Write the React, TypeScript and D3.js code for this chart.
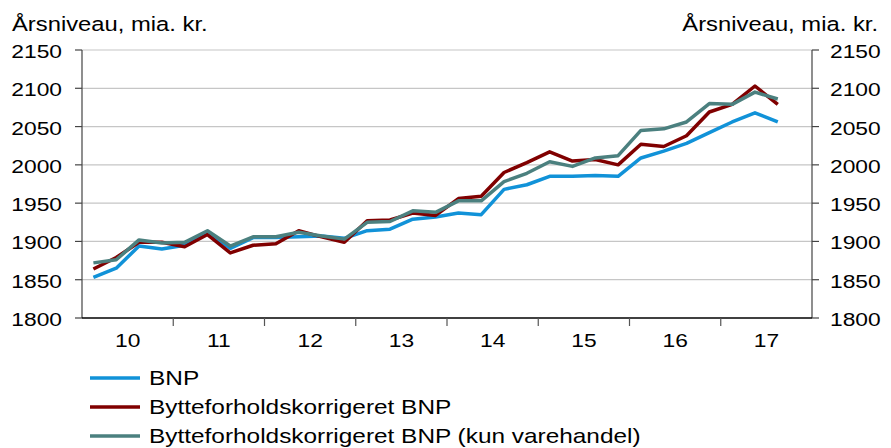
import React, { useEffect, useRef } from 'react';
import * as d3 from 'd3';

const years = ['10', '11', '12', '13', '14', '15', '16', '17'];
const yTicks = [1800, 1850, 1900, 1950, 2000, 2050, 2100, 2150];

// quarterly values, 2010K1 - 2017K3
const bnp = [
  1853, 1865, 1894, 1890, 1895, 1911, 1891, 1905, 1905, 1906, 1907, 1904,
  1914, 1916, 1929, 1932, 1937, 1935, 1968, 1974, 1985, 1985, 1986, 1985,
  2009, 2018, 2028, 2042, 2056, 2068, 2056
];
const bnpTot = [
  1864, 1879, 1899, 1899, 1893, 1909, 1885, 1895, 1897, 1914, 1906, 1899,
  1927, 1928, 1937, 1934, 1956, 1959, 1990, 2003, 2017, 2005, 2007, 2000,
  2027, 2024, 2038, 2069, 2079, 2103, 2079
];
const bnpVare = [
  1872, 1876, 1902, 1898, 1899, 1914, 1894, 1906, 1906, 1912, 1907, 1903,
  1925, 1926, 1940, 1938, 1953, 1953, 1978, 1989, 2004, 1998, 2009, 2012,
  2045, 2047, 2056, 2080, 2079, 2095, 2086
];

const seriesNames = [
  'BNP',
  'Bytteforholdskorrigeret BNP',
  'Bytteforholdskorrigeret BNP (kun varehandel)'
];
const seriesColors = ['#1192d8', '#800000', '#4b807f'];

const width = 891;
const height = 448;

const App: React.FC = () => {
  const svgRef = useRef<SVGSVGElement>(null);

  useEffect(() => {
    if (!svgRef.current) return;
    const svg = d3.select(svgRef.current);
    svg.selectAll('*').remove();

    const left = 82;
    const right = 812;
    const top = 50;
    const bottom = 318;

    const yScale = d3.scaleLinear().domain([1800, 2150]).range([bottom, top]);
    const yearScale = d3.scaleBand().domain(years).range([left, right]);
    const qScale = d3.scaleLinear().domain([0, years.length * 4]).range([left, right]);

    // text in the original is drawn a bit wide, hence the x-scale
    const addText = (x: number, y: number, str: string, anchor: string, size: number, sx = 1.2) =>
      svg.append('text')
        .attr('transform', `translate(${x},${y}) scale(${sx},1)`)
        .attr('text-anchor', anchor)
        .style('font-family', '"Liberation Sans", Arial, sans-serif')
        .style('font-size', `${size}px`)
        .attr('fill', '#000')
        .text(str);

    // gridlines
    svg.append('g')
      .selectAll('line')
      .data(yTicks.filter(t => t > 1800))
      .enter()
      .append('line')
      .attr('x1', left)
      .attr('x2', right)
      .attr('y1', d => yScale(d))
      .attr('y2', d => yScale(d))
      .attr('stroke', '#c6c6c6')
      .attr('stroke-width', 1.2);

    // y axes
    [left, right].forEach((ax, k) => {
      svg.append('line')
        .attr('x1', ax).attr('x2', ax)
        .attr('y1', top).attr('y2', bottom)
        .attr('stroke', '#444').attr('stroke-width', 1.2);
      yTicks.forEach(t => {
        svg.append('line')
          .attr('x1', k === 0 ? ax - 7 : ax).attr('x2', k === 0 ? ax : ax + 7)
          .attr('y1', yScale(t)).attr('y2', yScale(t))
          .attr('stroke', '#444').attr('stroke-width', 1.2);
        if (k === 0) addText(62, yScale(t) + 8, String(t), 'end', 19);
        else addText(830, yScale(t) + 8, String(t), 'start', 19);
      });
    });

    // x axis
    svg.append('line')
      .attr('x1', left).attr('x2', right)
      .attr('y1', bottom).attr('y2', bottom)
      .attr('stroke', '#000').attr('stroke-width', 1.5);
    years.slice(1).forEach(y => {
      const x = yearScale(y) as number;
      svg.append('line')
        .attr('x1', x).attr('x2', x)
        .attr('y1', bottom).attr('y2', bottom + 8)
        .attr('stroke', '#555').attr('stroke-width', 1.2);
    });
    years.forEach(y => {
      addText((yearScale(y) as number) + yearScale.bandwidth() / 2, 347, y, 'middle', 19);
    });

    // titles
    addText(12, 31, 'Årsniveau, mia. kr.', 'start', 19.5, 1.22);
    addText(878, 31, 'Årsniveau, mia. kr.', 'end', 19.5, 1.22);

    // lines
    const line = d3.line<number>()
      .x((_, i) => qScale(i + 0.5))
      .y(d => yScale(d));

    [bnp, bnpTot, bnpVare].forEach((s, k) => {
      svg.append('path')
        .datum(s)
        .attr('d', line)
        .attr('fill', 'none')
        .attr('stroke', seriesColors[k])
        .attr('stroke-width', 3.5)
        .attr('stroke-linejoin', 'round');
    });

    // legend
    seriesNames.forEach((name, k) => {
      const y = 378 + k * 29;
      svg.append('line')
        .attr('x1', 90).attr('x2', 140)
        .attr('y1', y).attr('y2', y)
        .attr('stroke', seriesColors[k])
        .attr('stroke-width', 3.5);
      addText(149, y + 7, name, 'start', 20, 1.22);
    });
  }, []);

  return (
    <svg
      ref={svgRef}
      width={width}
      height={height}
      style={{ display: 'block', position: 'absolute', left: 0, top: 0, background: '#fff' }}
    />
  );
};

export default App;
